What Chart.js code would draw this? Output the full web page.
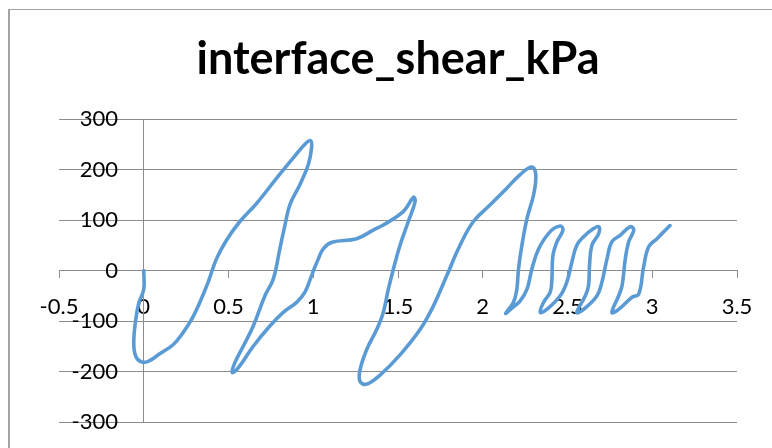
<!DOCTYPE html>
<html>
<head>
<meta charset="utf-8">
<script src="https://cdn.jsdelivr.net/npm/chart.js@4"></script>
<style>
  html, body { margin: 0; padding: 0; background: #fff; }
  #wrap { position: relative; width: 772px; height: 448px; overflow: hidden; }
  #frame { position: absolute; left: 8px; top: 9px; width: 900px; height: 600px;
           border-left: 2px solid #a3a3a3; border-top: 1px solid #a3a3a3; pointer-events: none; }
</style>
</head>
<body>
<div id="wrap">
  <canvas id="c" width="772" height="448"></canvas>
  <div id="frame"></div>
</div>
<script>
const chartTitle = 'interface_shear_kPa';
const xTicks = [-0.5, 0, 0.5, 1, 1.5, 2, 2.5, 3, 3.5];
const yTicks = [-300, -200, -100, 0, 100, 200, 300];

// displacement (x) and interface shear in kPa (y)
const shearX = [
  0, 0.0, -0.028, -0.047, -0.059, -0.047, -0.014, 0.026, 0.094, 0.173,
  0.232, 0.282, 0.331, 0.380, 0.429, 0.488, 0.567, 0.666, 0.784, 0.882,
  0.951, 0.985, 0.99, 0.971, 0.921, 0.862, 0.833, 0.803, 0.764, 0.715,
  0.646, 0.587, 0.537, 0.522, 0.557, 0.646, 0.744, 0.823, 0.902, 0.951,
  0.990, 1.030, 1.059, 1.110, 1.256, 1.354, 1.413, 1.532, 1.591, 1.601,
  1.561, 1.512, 1.473, 1.443, 1.413, 1.374, 1.315, 1.276, 1.276, 1.315,
  1.394, 1.512, 1.630, 1.709, 1.788, 1.866, 1.945, 2.044, 2.142, 2.221,
  2.290, 2.313, 2.300, 2.261, 2.231, 2.211, 2.201, 2.181, 2.135, 2.170,
  2.221, 2.261, 2.290, 2.330, 2.398, 2.457, 2.473, 2.438, 2.414, 2.408,
  2.398, 2.359, 2.339, 2.378, 2.457, 2.496, 2.526, 2.555, 2.595, 2.654,
  2.684, 2.684, 2.644, 2.630, 2.624, 2.605, 2.555, 2.595, 2.674, 2.703,
  2.733, 2.762, 2.812, 2.871, 2.891, 2.861, 2.841, 2.822, 2.802, 2.762,
  2.802, 2.881, 2.920, 2.949, 2.979, 3.028, 3.057, 3.105
];
const shearY = [
  0, -37, -63, -97, -143, -170, -181, -180, -165, -147,
  -123, -97, -63, -23, 23, 60, 97, 133, 183, 223,
  250, 257, 243, 210, 170, 130, 90, 43, -17, -50,
  -110, -150, -183, -202, -193, -150, -110, -83, -63, -43,
  -10, 23, 43, 56, 63, 80, 90, 117, 145, 137,
  97, 50, 3, -37, -83, -117, -157, -197, -220, -225,
  -207, -167, -117, -70, -10, 50, 97, 130, 163, 190,
  205, 190, 150, 103, 50, 3, -37, -63, -85, -75,
  -60, -37, 3, 43, 77, 88, 80, 57, 30, -17,
  -43, -63, -83, -77, -50, -23, 17, 50, 67, 83,
  87, 73, 50, 10, -30, -50, -83, -77, -50, -23,
  23, 57, 70, 87, 80, 57, 23, -30, -50, -83,
  -77, -53, -47, 7, 47, 63, 73, 89
];

const points = shearX.map((x, i) => ({ x: x, y: shearY[i] }));

const tickFont = { family: 'Lato', size: 22 };
const chartLeft = 59;          // left edge of the plot area (x = -0.5)
const yLabelRight = 118;       // right edge of the y tick labels
const mctx = document.createElement('canvas').getContext('2d');
mctx.font = 'normal 22px Lato';
const widestY = Math.max(...yTicks.map(v => mctx.measureText(String(v)).width));
const yLabelPad = yLabelRight - chartLeft - widestY;

const gridCol = '#8c8c8c';

new Chart(document.getElementById('c'), {
  type: 'scatter',
  data: {
    datasets: [{
      label: chartTitle,
      data: points,
      showLine: true,
      borderColor: '#5B9BD5',
      borderWidth: 3.6,
      pointRadius: 0,
      pointHoverRadius: 0,
      tension: 0.4,
      borderJoinStyle: 'round',
      borderCapStyle: 'round',
      fill: false
    }]
  },
  options: {
    responsive: false,
    animation: false,
    layout: { padding: { left: chartLeft, right: 35, top: 0, bottom: 26 } },
    plugins: {
      legend: { display: false },
      tooltip: { enabled: false },
      title: {
        display: true,
        text: chartTitle,
        color: '#000',
        font: { family: 'Lato', weight: 'bold', size: 45 },
        padding: { top: 32, bottom: 33 }
      }
    },
    scales: {
      x: {
        type: 'linear',
        position: { y: 0 },
        min: -0.5, max: 3.5,
        afterBuildTicks: (s) => { s.ticks = xTicks.map(v => ({ value: v })); },
        afterFit: (s) => { s.height = 0; },
        grid: { drawOnChartArea: false, drawTicks: true, tickLength: 7, color: gridCol, lineWidth: 1 },
        border: { display: true, color: gridCol, width: 1 },
        ticks: { color: '#000', font: tickFont, padding: 16, maxRotation: 0, autoSkip: false,
                 callback: (v) => String(v) }
      },
      y: {
        type: 'linear',
        position: { x: 0 },
        min: -300, max: 300,
        afterBuildTicks: (s) => { s.ticks = yTicks.map(v => ({ value: v })); },
        afterFit: (s) => { s.width = 0; },
        grid: { drawOnChartArea: true, drawTicks: false, color: gridCol, lineWidth: 1 },
        border: { display: true, color: gridCol, width: 1 },
        ticks: { display: false }
      },
      yLabels: {
        type: 'linear',
        position: 'left',
        min: -300, max: 300,
        afterBuildTicks: (s) => { s.ticks = yTicks.map(v => ({ value: v })); },
        afterFit: (s) => { s.width = 0; },
        grid: { display: false },
        border: { display: false },
        ticks: { color: '#000', font: tickFont, mirror: true, crossAlign: 'far', padding: yLabelPad, autoSkip: false,
                 callback: (v) => String(v) }
      }
    }
  }
});
</script>
</body>
</html>
